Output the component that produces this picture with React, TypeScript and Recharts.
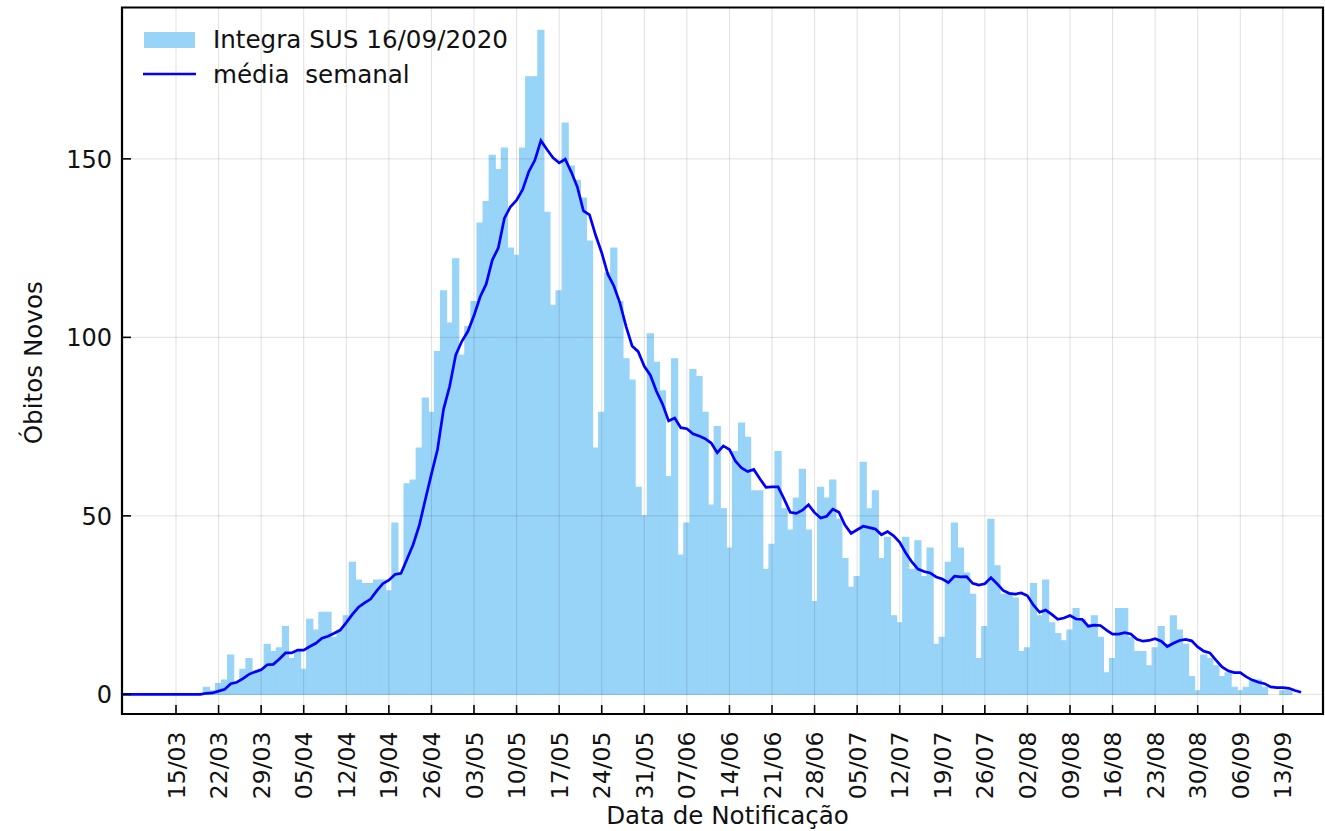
import React from "react";
import { ComposedChart, Bar, Line, XAxis, YAxis, ReferenceLine, ReferenceArea } from "recharts";

// day 0 = 15/03/2020; first entry below is 06/03
const FIRST_DAY = -9;

// óbitos novos por dia (06/03 .. 16/09)
const obitos = [
  0, 0, 0, 0, 0, 0, 0, 0, 0, 0, 0, 0, 0, 0,
  2, 1, 3, 4, 11, 3, 7, 10, 6, 7,
  14, 12, 13, 19, 10, 12, 7, 21, 18, 23,
  23, 16, 18, 22, 37, 32, 31, 31, 32, 32,
  29, 48, 34, 59, 60, 69, 83, 79, 96, 113,
  104, 122, 95, 103, 110, 132, 138, 151, 147, 153,
  125, 123, 153, 173, 173, 186, 135, 109, 113, 160,
  148, 144, 139, 127, 69, 79, 118, 125, 110, 94,
  88, 58, 50, 101, 93, 85, 61, 94, 39, 48,
  91, 89, 79, 53, 75, 52, 41, 68, 76, 72,
  57, 57, 35, 42, 68, 52, 46, 55, 63, 46,
  26, 58, 55, 60, 49, 38, 30, 33, 65, 52,
  57, 38, 44, 22, 20, 44, 35, 43, 33, 41,
  14, 16, 37, 48, 41, 34, 28, 10, 19, 49,
  36, 28, 28, 27, 12, 13, 31, 22, 32, 20,
  17, 15, 18, 24, 21, 19, 22, 16, 6, 10,
  24, 24, 16, 12, 12, 8, 13, 19, 14, 22,
  18, 14, 5, 1, 11, 10, 8, 5, 6, 2,
  1, 2, 4, 4, 2, 0, 0, 1, 1, 0, 0,
];

// média semanal, same days
const mediaSemanal = [
  0, 0, 0, 0, 0, 0, 0, 0, 0, 0, 0, 0, 0, 0,
  0.3, 0.4, 0.9, 1.4, 3.0, 3.4, 4.4, 5.6, 6.3, 6.9,
  8.3, 8.4, 9.9, 11.6, 11.6, 12.4, 12.4, 13.4, 14.3, 15.7,
  16.3, 17.1, 18.0, 20.1, 22.4, 24.4, 25.6, 26.7, 29.0, 31.0,
  32.0, 33.6, 33.9, 37.9, 42.0, 47.3, 54.6, 61.7, 68.6, 79.9,
  86.3, 95.1, 98.9, 101.7, 106.1, 111.3, 114.9, 121.6, 125.1, 133.4,
  136.6, 138.4, 141.4, 146.4, 149.6, 155.1, 152.6, 150.3, 148.9, 149.9,
  146.3, 142.1, 135.4, 134.3, 128.6, 123.7, 117.7, 114.4, 109.6, 103.1,
  97.6, 96.0, 91.9, 89.4, 84.9, 81.3, 76.6, 77.4, 74.7, 74.4,
  73.0, 72.4, 71.6, 70.4, 67.7, 69.6, 68.6, 65.3, 63.4, 62.4,
  63.0, 60.4, 58.0, 58.1, 58.1, 54.7, 51.0, 50.7, 51.6, 53.1,
  50.9, 49.4, 49.9, 51.9, 51.0, 47.4, 45.1, 46.1, 47.1, 46.7,
  46.3, 44.7, 45.6, 44.4, 42.6, 39.6, 37.1, 35.1, 34.4, 34.0,
  32.9, 32.3, 31.3, 33.1, 32.9, 33.0, 31.1, 30.6, 31.0, 32.7,
  31.0, 29.1, 28.3, 28.1, 28.4, 27.6, 25.0, 23.0, 23.6, 22.4,
  21.0, 21.4, 22.1, 21.1, 21.0, 19.1, 19.4, 19.3, 18.0, 16.9,
  16.9, 17.3, 16.9, 15.4, 14.9, 15.1, 15.6, 14.9, 13.4, 14.3,
  15.1, 15.4, 15.0, 13.3, 12.1, 11.6, 9.6, 7.7, 6.6, 6.1,
  6.1, 4.9, 4.0, 3.4, 3.0, 2.1, 1.9, 1.9, 1.7, 1.1, 0.6,
];

const weekTicks = [0, 7, 14, 21, 28, 35, 42, 49, 56, 63, 70, 77, 84, 91, 98, 105, 112, 119, 126, 133, 140, 147, 154, 161, 168, 175, 182];
const weekLabels = [
  "15/03", "22/03", "29/03", "05/04", "12/04", "19/04", "26/04", "03/05", "10/05",
  "17/05", "24/05", "31/05", "07/06", "14/06", "21/06", "28/06", "05/07", "12/07",
  "19/07", "26/07", "02/08", "09/08", "16/08", "23/08", "30/08", "06/09", "13/09",
];
const yTicks = [0, 50, 100, 150];

const X_MIN = -8.88;
const X_MAX = 188.6;
const Y_MIN = -5.5;
const Y_MAX = 192.4;

const FONT = "'DejaVu Sans', sans-serif";
const INK = "#111";
const BAR = "#98d3f8";
const LINE = "#0000ff";
const GRID = "#000";

const rows = obitos.map((v, i) => ({ day: FIRST_DAY + i, obitos: v, media: mediaSemanal[i] }));

function DateTick(props: any) {
  const { x, y, payload } = props;
  const label = weekLabels[weekTicks.indexOf(payload.value)];
  return (
    <g>
      <line x1={x} y1={y} x2={x} y2={y - 9} stroke="#000" strokeWidth={1.6} />
      <text
        transform={`translate(${x + 8.5},${y + 17.5}) rotate(-90)`}
        textAnchor="end"
        fontFamily={FONT}
        fontSize={23.5}
        fill={INK}
      >
        {label}
      </text>
    </g>
  );
}

function CountTick(props: any) {
  const { x, y, payload } = props;
  return (
    <g>
      <line x1={x} y1={y} x2={x + 9} y2={y} stroke="#000" strokeWidth={1.6} />
      <text x={x - 10} y={y} dy="0.36em" textAnchor="end" fontFamily={FONT} fontSize={24} fill={INK}>
        {payload.value}
      </text>
    </g>
  );
}

function Legenda() {
  return (
    <svg width={420} height={100} style={{ position: "absolute", left: 130, top: 20, overflow: "visible" }}>
      <rect x={14} y={12} width={51} height={16} fill={BAR} />
      <text x={83} y={28.3} fontFamily={FONT} fontSize={24.6} fill={INK}>
        Integra SUS 16/09/2020
      </text>
      <line x1={13} y1={54} x2={66} y2={54} stroke={LINE} strokeWidth={2.6} />
      <text x={83} y={62.7} fontFamily={FONT} fontSize={24.6} fill={INK} style={{ whiteSpace: "pre" }}>
        {"média  semanal"}
      </text>
    </svg>
  );
}

export default function App() {
  return (
    <div style={{ position: "absolute", left: 0, top: 0, width: 1325, height: 831, background: "#fff" }}>
      <ComposedChart
        width={1325}
        height={831}
        data={rows}
        margin={{ top: 7.5, right: 2, bottom: 0, left: 0 }}
      >
        <XAxis
          dataKey="day"
          type="number"
          domain={[X_MIN, X_MAX]}
          allowDataOverflow
          ticks={weekTicks}
          interval={0}
          tick={<DateTick />}
          tickLine={false}
          axisLine={false}
          tickSize={0}
          tickMargin={0}
          height={117}
          label={{
            content: (p: any) => {
              const vb = p.viewBox;
              return (
                <text
                  x={vb.x + vb.width / 2 + 5}
                  y={vb.y + vb.height - 7}
                  textAnchor="middle"
                  fontFamily={FONT}
                  fontSize={24.6}
                  fill={INK}
                >
                  Data de Notificação
                </text>
              );
            },
          }}
        />
        <YAxis
          type="number"
          domain={[Y_MIN, Y_MAX]}
          allowDataOverflow
          ticks={yTicks}
          interval={0}
          tick={<CountTick />}
          tickLine={false}
          axisLine={false}
          tickSize={0}
          tickMargin={0}
          width={122}
          label={{
            content: (p: any) => {
              const vb = p.viewBox;
              const cy = vb.y + vb.height / 2;
              return (
                <text
                  transform={`translate(42,${cy + 2}) rotate(-90)`}
                  textAnchor="middle"
                  fontFamily={FONT}
                  fontSize={24.6}
                  fill={INK}
                >
                  Óbitos Novos
                </text>
              );
            },
          }}
        />
        <Bar
          dataKey="obitos"
          fill={BAR}
          stroke={BAR}
          strokeWidth={1.2}
          barSize={6}
          isAnimationActive={false}
        />
        {weekTicks.map((t) => (
          <ReferenceLine key={"vx" + t} x={t} stroke={GRID} strokeOpacity={0.12} strokeWidth={1} />
        ))}
        {yTicks.map((t) => (
          <ReferenceLine key={"hy" + t} y={t} stroke={GRID} strokeOpacity={0.12} strokeWidth={1} />
        ))}
        <Line
          dataKey="media"
          type="linear"
          stroke={LINE}
          strokeWidth={2.7}
          dot={false}
          activeDot={false}
          isAnimationActive={false}
        />
        <ReferenceArea
          x1={X_MIN}
          x2={X_MAX}
          y1={Y_MIN}
          y2={Y_MAX}
          fill="none"
          stroke="#000"
          strokeWidth={2.2}
        />
      </ComposedChart>
      <Legenda />
    </div>
  );
}
